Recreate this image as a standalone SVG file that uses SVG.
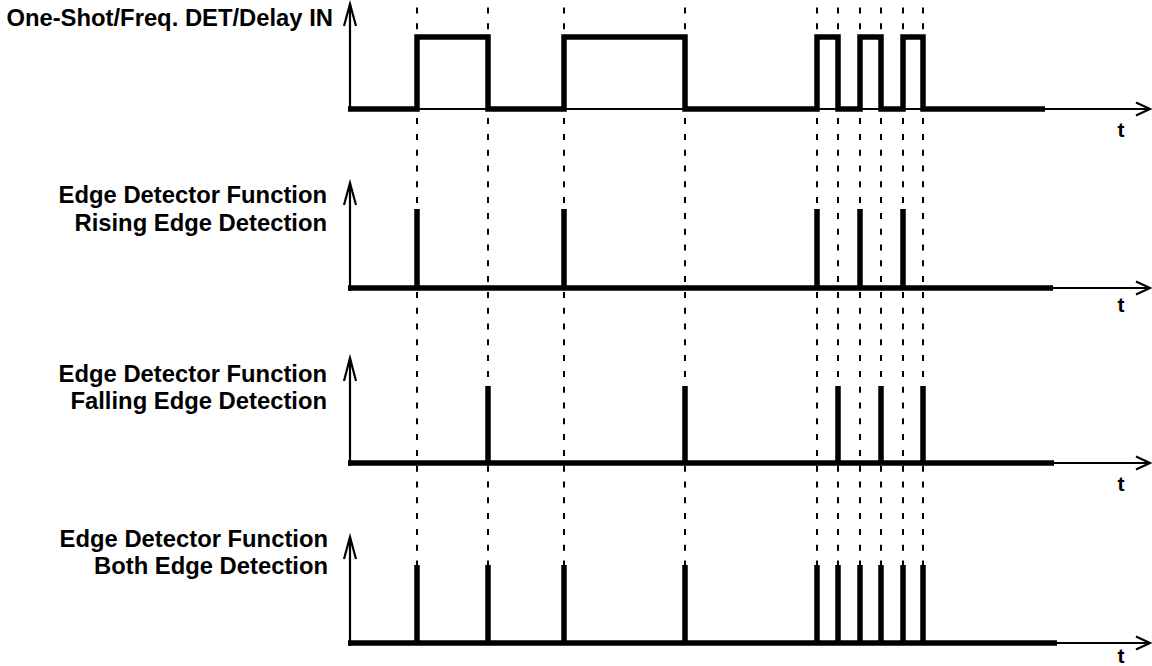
<svg xmlns="http://www.w3.org/2000/svg" width="1152" height="666" viewBox="0 0 1152 666">
<style>
.lbl{font-family:"Liberation Sans",Arial,sans-serif;font-weight:bold;font-size:23.8px;fill:#000;text-anchor:end}
.t{font-family:"Liberation Sans",Arial,sans-serif;font-weight:bold;font-size:21px;fill:#000;text-anchor:middle}
.axis{stroke:#000;stroke-width:2.2;fill:none}
.head{stroke:#000;stroke-width:2.2;fill:none;stroke-linejoin:miter}
.wave{stroke:#000;stroke-width:5.5;fill:none;stroke-linejoin:miter;stroke-linecap:butt}
.dash{stroke:#000;stroke-width:2;stroke-dasharray:6 9.8;fill:none}
</style>
<g id="guides">
<path class="dash" d="M417,7.5V565M488,7.5V565M564,7.5V565M685,7.5V565M817,7.5V565M838,7.5V565M860,7.5V565M881,7.5V565M903,7.5V565M923,7.5V565"/>
</g>
<g id="panel-input">
<text class="lbl" x="333" y="26">One-Shot/Freq. DET/Delay IN</text>
<path class="axis" d="M350,111V4M350,109H1149"/>
<path class="head" d="M344,26L350,4L356,26M1136,102.5L1150,109L1136,115.5"/>
<path class="wave" d="M348,109H417V37H488V109H564V37H685V109H817V37H838V109H860V37H881V109H903V37H923V109H1045"/>
<text class="t" x="1121" y="137">t</text>
</g>
<g id="panel-rising">
<text class="lbl" x="327" y="203">Edge Detector Function</text>
<text class="lbl" x="327" y="230.5">Rising Edge Detection</text>
<path class="axis" d="M350,291V183M350,288H1149"/>
<path class="head" d="M344,205L350,183L356,205M1136,281.5L1150,288L1136,294.5"/>
<path class="wave" d="M348,288H1053M417,288V209M564,288V209M817,288V209M860,288V209M903,288V209"/>
<text class="t" x="1121" y="312">t</text>
</g>
<g id="panel-falling">
<text class="lbl" x="327" y="381.5">Edge Detector Function</text>
<text class="lbl" x="327" y="408.5">Falling Edge Detection</text>
<path class="axis" d="M350,466V358M350,463H1149"/>
<path class="head" d="M344,381L350,358L356,381M1136,456.5L1150,463L1136,469.5"/>
<path class="wave" d="M348,463H1054M488,463V386M685,463V386M838,463V386M881,463V386M923,463V386"/>
<text class="t" x="1121" y="491">t</text>
</g>
<g id="panel-both">
<text class="lbl" x="328" y="546.5">Edge Detector Function</text>
<text class="lbl" x="328" y="574">Both Edge Detection</text>
<path class="axis" d="M350,646V537M350,643H1149"/>
<path class="head" d="M344,559L350,537L356,559M1136,636.5L1150,643L1136,649.5"/>
<path class="wave" d="M348,643H1057M417,643V565M488,643V565M564,643V565M685,643V565M817,643V565M838,643V565M860,643V565M881,643V565M903,643V565M923,643V565"/>
<text class="t" x="1121" y="663">t</text>
</g>
</svg>
